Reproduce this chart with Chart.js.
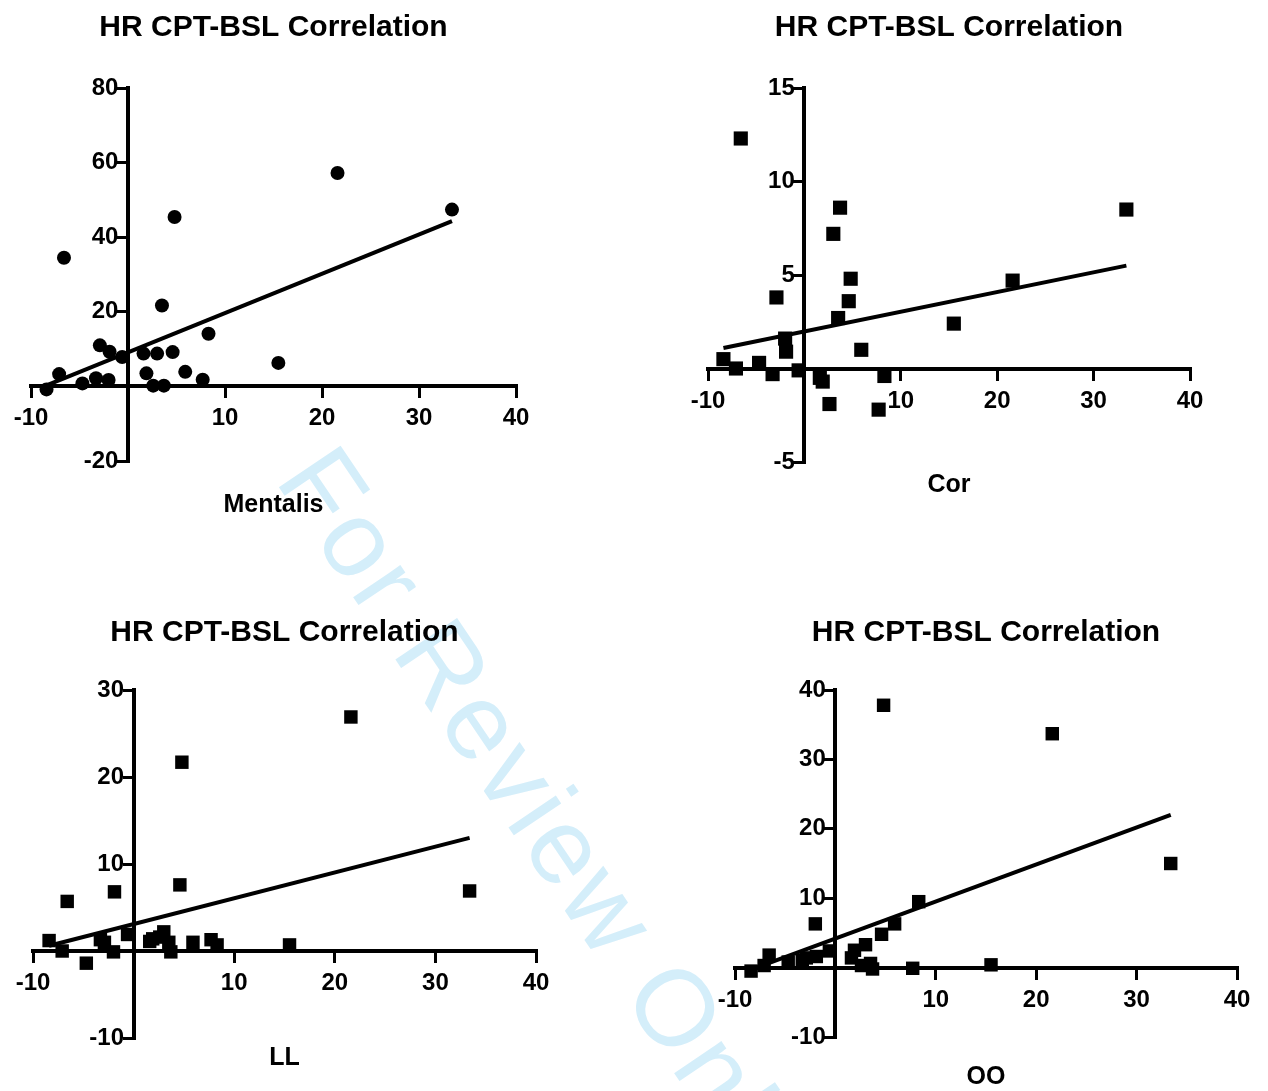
<!DOCTYPE html>
<html>
<head>
<meta charset="utf-8">
<title>HR CPT-BSL Correlation</title>
<script src="https://cdn.jsdelivr.net/npm/chart.js@4.4.0/dist/chart.umd.min.js"></script>
<style>
  html, body { margin: 0; padding: 0; background: #fff; width: 1268px; height: 1091px; overflow: hidden; }
  .panel { position: absolute; }
  #watermark {
    position: absolute; left: 357px; top: 424px;
    font: 108px 'Liberation Sans', Arial, sans-serif;
    letter-spacing: 4px;
    color: rgb(212, 238, 250);
    transform-origin: 0 0; transform: rotate(56deg);
    white-space: nowrap;
  }
</style>
</head>
<body>
<div id="watermark">For Review Only</div>
<div class="panel" style="left:1px;top:0px;width:545px;height:526px"><canvas id="c1"></canvas></div>
<div class="panel" style="left:678px;top:0px;width:542px;height:506px"><canvas id="c2"></canvas></div>
<div class="panel" style="left:3px;top:580px;width:563px;height:499px"><canvas id="c3"></canvas></div>
<div class="panel" style="left:705px;top:580px;width:562px;height:512px"><canvas id="c4"></canvas></div>
<script>
// ==================== HR CPT-BSL correlation, four muscles ====================

// --- data ---
// x: HR change (CPT - BSL), same subjects in every panel
const hrDiff = [-8.4, -7.1, -6.6, -4.7, -3.3, -2.9, -2.0, -1.9, -0.6, 1.6, 1.9, 2.6,
                3.0, 3.5, 3.7, 4.6, 4.8, 5.9, 7.7, 8.3, 15.5, 21.6, 33.4];
const mentalis = [-0.8, 3.3, 34.5, 0.8, 2.2, 11.0, 1.7, 9.3, 7.9, 8.8, 3.5, 0.2,
                  8.8, 21.7, 0.2, 9.2, 45.4, 3.9, 1.8, 14.1, 6.3, 57.2, 47.4];
const cor = [0.5, 0.0, 12.3, 0.3, -0.3, 3.8, 1.6, 0.9, -0.1, -0.5, -0.7, -1.9,
             7.2, 2.7, 8.6, 3.6, 4.8, 1.0, -2.2, -0.4, 2.4, 4.7, 8.5];
const ll = [1.2, 0.0, 5.7, -1.4, 1.3, 1.0, -0.1, 6.8, 1.9, 1.1, 1.4, 1.6,
            2.2, 1.0, -0.1, 7.6, 21.7, 1.0, 1.3, 0.7, 0.7, 26.9, 6.9];
const oo = [-0.5, 0.3, 1.8, 0.8, 1.0, 1.4, 6.3, 1.6, 2.4, 1.4, 2.5, 0.3,
            3.3, 0.6, -0.2, 4.8, 37.8, 6.3, -0.1, 9.5, 0.4, 33.7, 15.0];

// regression line end points
const fitX = [-8.4, 33.4];
const mentalisFit = [0.3, 44.3];
const corFit = [1.1, 5.5];
const llFit = [0.6, 13.0];
const ooFit = [-0.3, 22.0];

const chartTitle = 'HR CPT-BSL Correlation';
const FONT = "'Liberation Sans', Arial, Helvetica, sans-serif";

function makePanel(id, label, ys, fit, yr, marker, pad) {
  const pts = hrDiff.map((x, i) => ({ x: x, y: ys[i] }));
  const line = fitX.map((x, i) => ({ x: x, y: fit[i] }));
  const tickFont = { family: FONT, size: 24, weight: 'bold' };
  const hideZero = v => (v === 0 ? '' : v);
  // y labels of a centred axis sit on the axis line, push them past the tick
  const yLabel = v => (v === 0 ? '' : v + '\u2009\u2009');

  return new Chart(document.getElementById(id), {
    type: 'scatter',
    data: {
      datasets: [
        { data: line, showLine: true, borderColor: '#000', borderWidth: 4,
          pointRadius: 0, fill: false },
        { data: pts, pointStyle: marker.style, pointRadius: marker.r,
          backgroundColor: '#000', borderColor: '#000', borderWidth: 0 }
      ]
    },
    options: {
      responsive: true,
      maintainAspectRatio: false,
      animation: false,
      events: [],
      layout: { padding: { left: 30, right: 30, top: 0, bottom: 0 } },
      plugins: {
        legend: { display: false },
        tooltip: { enabled: false },
        title: {
          display: true, text: chartTitle, color: '#000',
          font: { family: FONT, size: 30, weight: 'bold' },
          padding: { top: pad.t1, bottom: pad.t2 }
        },
        subtitle: {
          display: true, text: label, position: 'bottom', color: '#000',
          font: { family: FONT, size: 25, weight: 'bold' },
          padding: { top: pad.s1, bottom: pad.s2 }
        }
      },
      scales: {
        x: {
          type: 'linear', position: { y: 0 }, min: -10, max: 40,
          afterFit: s => { s.height = 0; },
          ticks: { stepSize: 10, callback: hideZero, color: '#000', font: tickFont,
                   padding: 8, maxRotation: 0, autoSkip: false },
          grid: { drawOnChartArea: false, drawTicks: true, tickLength: 10,
                  color: '#000', lineWidth: 3 },
          border: { color: '#000', width: 4 }
        },
        y: {
          type: 'linear', position: { x: 0 }, min: yr[0], max: yr[1],
          afterFit: s => { s.width = 0; },
          ticks: { stepSize: yr[2], callback: yLabel, color: '#000', font: tickFont,
                   autoSkip: false },
          grid: { drawOnChartArea: false, drawTicks: true, tickLength: 9,
                  color: '#000', lineWidth: 3 },
          border: { color: '#000', width: 4 }
        }
      }
    }
  });
}

makePanel('c1', 'Mentalis', mentalis, mentalisFit, [-20, 80, 20],
  { style: 'circle', r: 7 }, { t1: 10, t2: 42, s1: 29, s2: 6 });
makePanel('c2', 'Cor', cor, corFit, [-5, 15, 5],
  { style: 'rect', r: 10 }, { t1: 10, t2: 42, s1: 8, s2: 6 });
makePanel('c3', 'LL', ll, llFit, [-10, 30, 10],
  { style: 'rect', r: 9.5 }, { t1: 35, t2: 39, s1: 5, s2: 6 });
makePanel('c4', 'OO', oo, ooFit, [-10, 40, 10],
  { style: 'rect', r: 9.5 }, { t1: 35, t2: 39, s1: 25, s2: 0 });
</script>
</body>
</html>
